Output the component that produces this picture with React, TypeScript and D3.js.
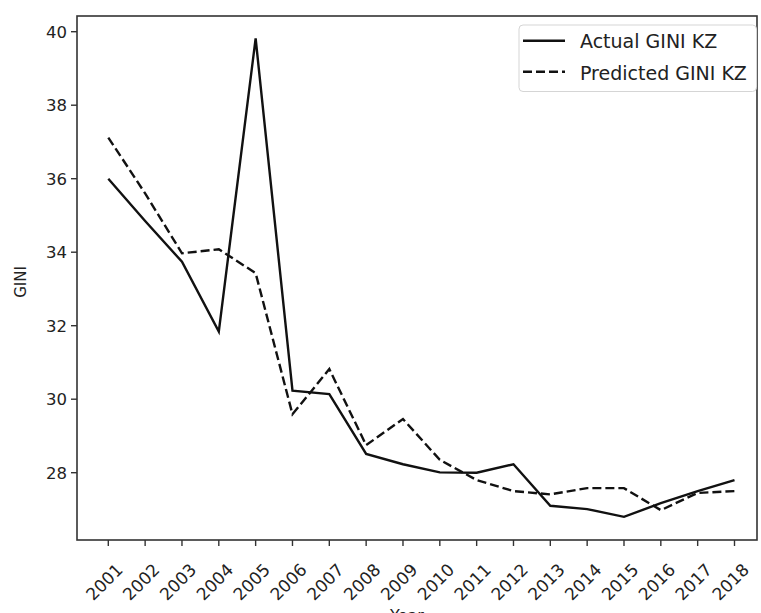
import React from 'react'
import * as d3 from 'd3'

// years on the x axis
const years = [2001, 2002, 2003, 2004, 2005, 2006, 2007, 2008, 2009, 2010, 2011, 2012, 2013, 2014, 2015, 2016, 2017, 2018]

// GINI values
const actualGini = [36.0, 34.85, 33.74, 31.84, 39.82, 30.23, 30.14, 28.51, 28.23, 28.01, 28.0, 28.23, 27.1, 27.01, 26.8, 27.17, 27.5, 27.8]
const predictedGini = [37.12, 35.6, 33.97, 34.08, 33.43, 29.59, 30.82, 28.75, 29.46, 28.35, 27.8, 27.5, 27.41, 27.58, 27.58, 26.98, 27.45, 27.5]

const yTicks = [28, 30, 32, 34, 36, 38, 40]

const seriesNames = ['Actual GINI KZ', 'Predicted GINI KZ']

const W = 761
const H = 613
const FRAME = { left: 77, right: 757, top: 16, bottom: 540 }
const FONT = '"DejaVu Sans", sans-serif'

export default function App() {
    const x = d3.scaleLinear().domain([2001, 2018]).range([108.3, 734.5])
    const y = d3.scaleLinear().domain([28, 40]).range([472.7, 31.7])

    const line = d3.line<number>()
        .x((d, i) => x(years[i]))
        .y(d => y(d))

    return (
        <svg width={W} height={H}
             style={{ position: 'absolute', left: 0, top: 0, background: '#fff' }}
             fontFamily={FONT}>

            {/* series */}
            <path d={line(actualGini) || ''} fill='none' stroke='#111' strokeWidth={2.4} />
            <path d={line(predictedGini) || ''} fill='none' stroke='#111' strokeWidth={2.4}
                  strokeDasharray='9,4' />

            {/* frame */}
            <rect x={FRAME.left} y={FRAME.top}
                  width={FRAME.right - FRAME.left} height={FRAME.bottom - FRAME.top}
                  fill='none' stroke='#333' strokeWidth={1.6} />

            {/* y axis */}
            {yTicks.map(t => (
                <g key={t} transform={`translate(${FRAME.left},${y(t)})`}>
                    <line x1={-6} x2={0} stroke='#333' strokeWidth={1.4} />
                    <text x={-10} dy='0.36em' textAnchor='end' fontSize={16.5} fill='#222'>{t}</text>
                </g>
            ))}
            <text transform={`translate(21,282) rotate(-90)`} textAnchor='middle'
                  dominantBaseline='central' fontSize={15} fill='#222'>GINI</text>

            {/* x axis */}
            {years.map(yr => (
                <g key={yr} transform={`translate(${x(yr)},${FRAME.bottom})`}>
                    <line y1={0} y2={6} stroke='#333' strokeWidth={1.4} />
                    <text transform='translate(-4,42) rotate(-45)' textAnchor='middle'
                          dominantBaseline='central' fontSize={17} fill='#222'>{yr}</text>
                </g>
            ))}
            <text x={407} y={609} textAnchor='middle' dominantBaseline='hanging'
                  fontSize={16} fill='#222'>Year</text>

            {/* legend */}
            <g>
                <rect x={519} y={25} width={237.5} height={66.5} rx={4}
                      fill='#fff' fillOpacity={0.85} stroke='#d5d5d5' strokeWidth={1} />
                <line x1={523} x2={565} y1={40.7} y2={40.7} stroke='#111' strokeWidth={2.4} />
                <text x={580} y={48.3} fontSize={19} fill='#222'>{seriesNames[0]}</text>
                <line x1={523} x2={565} y1={71.7} y2={71.7} stroke='#111' strokeWidth={2.4}
                      strokeDasharray='9,4' />
                <text x={580} y={80} fontSize={19} fill='#222'>{seriesNames[1]}</text>
            </g>
        </svg>
    )
}
